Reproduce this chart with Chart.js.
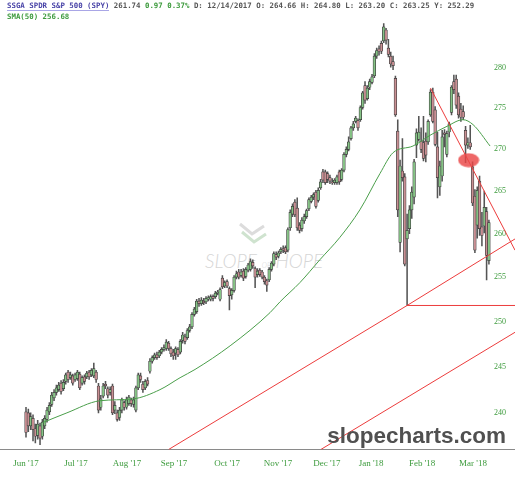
<!DOCTYPE html>
<html>
<head>
<meta charset="utf-8">
<script src="https://cdn.jsdelivr.net/npm/chart.js@4.4.1/dist/chart.umd.min.js"></script>
<style>
  html, body { margin: 0; padding: 0; background: #fff; }
  #wrap { position: relative; width: 515px; height: 480px; overflow: hidden; }
  #myChart { position: absolute; left: 0; top: 0; z-index: 1; }
  .hdr { position: absolute; left: 7px; z-index: 2; white-space: pre; font-family: "DejaVu Sans Mono", monospace; font-size: 7.4px; color: #555; font-weight: bold; }
  .ttl { color: #4a45a8; border-bottom: 1.5px solid #a9a6e6; }
  .up { color: #3c9a3c; }
  .wm { position: absolute; z-index: 0; left: 205px; top: 249px; color: #d6d6d6; font-family: Lato, sans-serif; font-style: italic; font-weight: 300; font-size: 19px; white-space: pre; }
  .wm small { font-size: 7px; }
  .logo { position: absolute; z-index: 0; left: 236px; top: 220px; }
  .brand { position: absolute; z-index: 2; right: 9px; top: 423px; font-family: "Liberation Sans", Arial, sans-serif; font-weight: bold; font-size: 22.5px; color: #505050; }
</style>
</head>
<body>
<div id="wrap">
  <svg class="logo" width="34" height="28" viewBox="0 0 34 28">
    <polyline points="4,4 16,14 28,6" fill="none" stroke="#dcdcdc" stroke-width="3"/>
    <polyline points="6,12 18,22 30,14" fill="none" stroke="#cfe3cf" stroke-width="3"/>
  </svg>
  <div class="wm">SLOPE <small>OF</small> HOPE</div>
  <canvas id="myChart" width="515" height="480"></canvas>
  <div class="hdr" style="top:1px"><span class="ttl">SSGA SPDR S&amp;P 500 (SPY)</span> 261.74 <span class="up">0.97 0.37%</span> D: 12/14/2017 O: 264.66 H: 264.80 L: 263.20 C: 263.25 Y: 252.29</div>
  <div class="hdr up" style="top:12px">SMA(50) 256.68</div>
  <div class="brand">slopecharts.com</div>
</div>
<script>
// daily candles (adjusted prices)
var opens = [240.1,240.0,238.6,239.4,238.3,237.6,238.6,237.5,238.6,239.3,240.1,240.9,241.6,242.2,242.5,243.2,242.6,243.4,244.4,243.8,
  244.0,243.6,243.7,244.2,243.2,243.9,243.9,244.4,244.1,244.0,244.4,242.9,240.6,241.8,243.1,242.6,242.2,242.9,240.3,240.0,
  239.5,240.3,241.1,240.6,241.0,241.4,240.9,240.3,242.7,244.0,243.1,242.7,243.5,244.5,245.6,246.0,246.3,246.2,246.6,246.9,
  247.0,247.6,247.0,246.6,246.5,246.9,246.6,247.9,248.3,248.2,249.0,249.4,250.8,251.1,252.3,252.0,252.3,252.2,252.5,252.5,
  252.8,252.8,253.2,252.5,254.9,254.0,254.5,253.7,253.0,253.5,255.0,255.6,255.2,255.7,255.1,255.8,255.9,256.7,256.0,255.3,
  255.8,255.6,255.0,254.6,254.7,255.9,256.5,257.6,257.4,257.9,258.3,258.4,258.1,260.7,262.3,263.7,263.0,261.0,260.6,261.5,
  262.0,262.9,263.8,264.3,264.9,263.9,265.4,267.3,267.3,267.1,266.6,266.1,266.0,266.0,267.3,266.4,267.5,269.4,270.0,271.3,
  272.6,273.4,273.5,273.6,275.1,277.8,276.2,277.6,278.2,279.0,281.5,282.4,283.1,283.4,284.8,282.5,281.5,280.8,278.7,272.2,
  259.0,267.4,266.7,259.4,260.6,262.8,264.3,270.5,271.2,271.0,270.8,271.0,270.9,274.2,277.0,274.8,270.3,265.5,266.8,272.0,
  269.4,272.1,274.5,278.3,278.6,276.5,274.9,274.6,272.3,270.5,270.8,267.9,264.4,261.0,266.2,260.8,260.9,262.6,256.9];
var highs = [240.6,240.4,240.0,239.8,238.8,239.2,238.9,239.3,239.7,240.6,241.1,242.2,242.5,243.0,243.3,243.5,243.6,244.3,244.6,244.4,
  244.2,244.3,244.6,244.4,244.0,244.1,244.5,244.6,244.8,245.4,244.6,243.2,241.9,243.2,243.4,242.8,242.8,243.1,241.2,240.3,
  240.6,241.6,241.3,241.7,241.9,241.6,241.7,242.9,244.3,244.3,243.4,243.6,243.8,245.9,246.2,246.5,246.6,246.8,247.1,247.4,
  248.0,247.8,247.2,246.9,247.2,247.1,248.0,248.8,248.6,249.2,249.7,251.0,251.6,252.5,252.6,252.7,252.6,252.8,252.9,253.0,
  253.0,253.4,253.5,253.8,255.2,254.6,254.7,253.9,253.7,255.2,255.7,255.9,255.9,256.0,256.1,256.6,257.1,257.0,256.2,256.0,
  256.0,255.8,255.2,254.8,256.1,256.8,257.9,257.9,258.0,258.4,258.6,258.6,260.7,262.8,263.5,264.0,264.2,261.3,261.9,262.3,
  262.9,264.2,264.5,264.8,265.1,265.4,266.4,267.6,267.5,267.3,266.9,266.5,266.5,266.9,267.5,267.7,269.6,270.3,271.5,272.8,
  273.4,274.0,273.7,275.3,277.1,278.3,277.8,278.6,279.2,281.8,282.5,282.8,283.4,285.6,285.0,283.6,282.0,281.5,279.0,273.6,
  268.7,271.3,267.1,262.3,263.3,265.5,268.8,272.5,274.0,272.6,274.0,272.0,273.6,277.3,277.5,275.2,272.1,268.6,272.3,272.4,
  272.2,273.3,277.8,279.1,279.1,276.9,275.6,275.3,272.8,271.4,272.9,268.5,265.2,265.5,266.8,262.5,265.0,263.1,261.6];
var lows = [237.4,238.0,238.2,237.0,236.8,237.2,236.6,237.2,238.3,239.0,239.8,240.7,241.3,241.9,242.3,242.0,242.4,243.1,243.3,243.6,
  243.0,243.4,243.5,242.5,243.0,243.1,243.7,243.6,243.9,243.8,243.3,240.0,240.3,241.6,242.6,241.6,241.9,239.8,239.9,239.1,
  239.2,240.0,240.3,240.4,240.8,240.7,240.6,240.1,242.5,243.3,242.2,242.5,242.9,244.3,245.4,245.8,245.8,246.0,246.4,246.7,
  246.8,246.8,246.1,245.8,245.8,246.1,246.4,247.6,247.5,248.0,248.8,249.2,250.6,250.9,251.7,251.8,251.9,252.0,252.3,252.3,
  252.3,252.6,253.0,252.3,253.7,253.8,253.8,251.3,252.5,253.3,254.8,254.8,255.0,254.6,254.9,255.6,255.7,256.0,253.8,255.0,
  255.1,254.8,254.2,253.4,254.5,255.7,256.3,257.0,257.2,257.7,257.8,257.7,257.9,260.4,262.0,262.0,260.4,260.1,260.3,261.2,
  261.8,262.7,263.6,264.0,263.0,263.7,265.2,266.0,265.8,266.0,265.9,265.8,265.8,265.8,265.8,266.2,267.3,269.1,269.8,271.1,
  272.3,273.2,272.3,273.4,274.9,275.6,276.0,277.3,278.0,278.8,281.2,281.6,281.8,283.2,283.0,281.4,280.1,279.8,274.0,262.0,
  257.9,266.2,256.3,251.8,260.0,261.8,263.5,269.0,271.0,269.6,268.6,268.5,270.6,274.0,273.2,270.4,264.2,264.5,266.2,270.3,
  269.1,271.5,274.2,276.8,275.0,273.8,273.4,273.6,268.4,270.1,270.0,263.3,257.8,259.5,259.8,258.6,260.1,254.7,256.5];
var closes = [237.9,238.6,239.6,238.2,237.5,238.8,237.3,239.0,239.4,240.3,240.8,241.9,242.2,242.7,243.0,242.3,243.3,244.1,243.6,244.1,
  243.2,244.1,244.4,242.7,243.8,243.4,244.3,243.9,244.6,244.8,243.6,240.3,241.5,242.9,242.9,241.9,242.5,240.0,240.8,239.3,
  240.3,241.4,240.6,241.4,241.7,241.0,241.4,242.7,244.1,243.6,242.5,243.4,243.1,245.6,246.0,246.3,246.0,246.6,246.9,247.1,
  247.7,247.0,246.4,246.2,247.0,246.3,247.8,248.5,247.8,249.0,249.4,250.8,251.4,252.3,252.0,252.4,252.1,252.6,252.7,252.8,
  252.6,253.2,253.3,253.6,253.9,254.4,254.0,252.9,253.5,255.0,255.4,255.0,255.6,254.9,255.9,256.4,256.8,256.3,255.0,255.7,
  255.3,255.0,254.5,254.1,255.9,256.6,257.7,257.3,257.8,258.2,258.1,257.9,260.5,262.5,263.2,262.2,260.7,260.4,261.6,262.0,
  262.7,264.0,264.3,264.6,263.2,265.1,266.1,266.3,266.0,266.4,266.2,266.0,266.3,266.7,266.1,267.5,269.4,270.0,270.9,272.6,
  273.1,273.8,272.6,275.1,276.9,276.0,277.5,278.3,278.9,281.5,282.2,282.1,282.1,285.2,283.5,281.7,280.5,280.3,274.2,262.8,
  268.0,266.6,256.5,260.4,262.8,264.9,268.5,272.0,272.1,270.0,268.9,269.3,273.4,277.0,273.4,270.6,266.6,268.0,271.5,271.8,
  271.9,273.1,277.6,277.3,275.4,274.2,273.9,273.9,270.5,270.8,270.3,263.6,258.1,265.1,260.6,259.8,263.1,257.5,261.3];

// SMA(50) read at points along the curve (candle index, price)
var smaIdx = [7.3, 17.5, 31.6, 45.8, 57.3, 65.9, 72.3, 87.3, 104.4, 108.6, 117.2, 125.7, 134.3, 142.8, 151.4, 157.0, 165.5, 172.8, 180.1, 186.9, 191.2, 198.5];
var smaVal = [238.97, 240.0, 241.3, 241.5, 242.5, 243.8, 244.7, 247.3, 251.0, 252.2, 254.4, 257.0, 259.6, 262.8, 267.1, 269.6, 270.4, 271.7, 272.8, 273.6, 273.0, 270.4];

// hand-drawn trendlines (candle index, price)
var trendDown = [[173, 277.5], [209.15, 258.1]];
var trendUp = [[61, 236.1], [163, 251.8], [209.15, 259.4]];
var trendUp2 = [[126.1, 236.1], [209.15, 248.8]];
var flatLine = [[163, 251.8], [209.15, 251.8]];
var marker = [189.3, 268.7];

var monthIdx = [0, 21.4, 43.2, 63.3, 86.0, 107.8, 128.7, 147.6, 169.4, 191.2];
var monthLabels = ["Jun '17", "Jul '17", "Aug '17", "Sep '17", "Oct '17", "Nov '17", "Dec '17", "Jan '18", "Feb '18", "Mar '18"];
var priceTicks = [240, 245, 250, 255, 260, 265, 270, 275, 280];

var green = "#3d9b3d";
var red = "#ec3c3c";

function pts(arr) {
  return arr.map(function (p) { return { x: p[0], y: p[1] }; });
}

var bodies = closes.map(function (c, i) { return { x: i, y: [opens[i], c] }; });
var wicks = highs.map(function (h, i) { return { x: i, y: [lows[i], h] }; });
var fills = closes.map(function (c, i) { return c >= opens[i] ? "#86c386" : "#c98f93"; });
var sma = smaIdx.map(function (v, i) { return { x: v, y: smaVal[i] }; });

// red oval marker
var oval = document.createElement("canvas");
oval.width = 22; oval.height = 15;
var octx = oval.getContext("2d");
octx.fillStyle = "rgba(234,70,70,0.82)";
octx.beginPath();
octx.ellipse(11, 7.5, 10.5, 7, 0, 0, Math.PI * 2);
octx.fill();

var ctx = document.getElementById("myChart").getContext("2d");
var myChart = new Chart(ctx, {
  type: "bar",
  data: {
    datasets: [
      { type: "line", data: [{ x: marker[0], y: marker[1] }], showLine: false, pointStyle: oval, pointRadius: 10, order: -1 },
      { type: "line", data: pts(trendDown), borderColor: red, borderWidth: 1, pointRadius: 0, order: 0 },
      { type: "line", data: pts(trendUp), borderColor: red, borderWidth: 1, pointRadius: 0, order: 0 },
      { type: "line", data: pts(trendUp2), borderColor: red, borderWidth: 1, pointRadius: 0, order: 0 },
      { type: "line", data: pts(flatLine), borderColor: red, borderWidth: 1, pointRadius: 0, order: 0 },
      { type: "line", data: sma, borderColor: "#4a9e4a", borderWidth: 1, pointRadius: 0, cubicInterpolationMode: "monotone", order: 1 },
      { data: bodies, backgroundColor: fills, borderColor: "#3a3a3a", borderWidth: 0.7, borderSkipped: false, barThickness: 2.7, grouped: false, order: 2 },
      { data: wicks, backgroundColor: "#555", barThickness: 0.9, grouped: false, order: 3 }
    ]
  },
  options: {
    responsive: false,
    animation: false,
    events: [],
    layout: { autoPadding: false, padding: 0 },
    plugins: { legend: { display: false }, tooltip: { enabled: false } },
    scales: {
      x: {
        type: "linear",
        min: -11.12,
        max: 209.15,
        offset: false,
        afterFit: function (s) { s.height = 30.5; },
        afterBuildTicks: function (s) { s.ticks = monthIdx.map(function (v) { return { value: v }; }); },
        ticks: {
          autoSkip: false, maxRotation: 0, padding: 9, color: green,
          font: { family: "Liberation Serif", size: 9 },
          callback: function (v, k) { return monthLabels[k]; }
        },
        grid: { display: false, drawTicks: false },
        border: { display: true, color: "#8a8a8a", width: 1 }
      },
      y: {
        type: "logarithmic",
        position: "right",
        min: 236.1,
        max: 288.64,
        afterFit: function (s) { s.width = 0; },
        afterBuildTicks: function (s) { s.ticks = priceTicks.map(function (v) { return { value: v }; }); },
        ticks: {
          mirror: true, padding: -9, color: green,
          font: { family: "Liberation Serif", size: 8 },
          callback: function (v) { return String(v); }
        },
        grid: { display: false, drawTicks: false },
        border: { display: false }
      }
    }
  }
});
</script>
</body>
</html>
